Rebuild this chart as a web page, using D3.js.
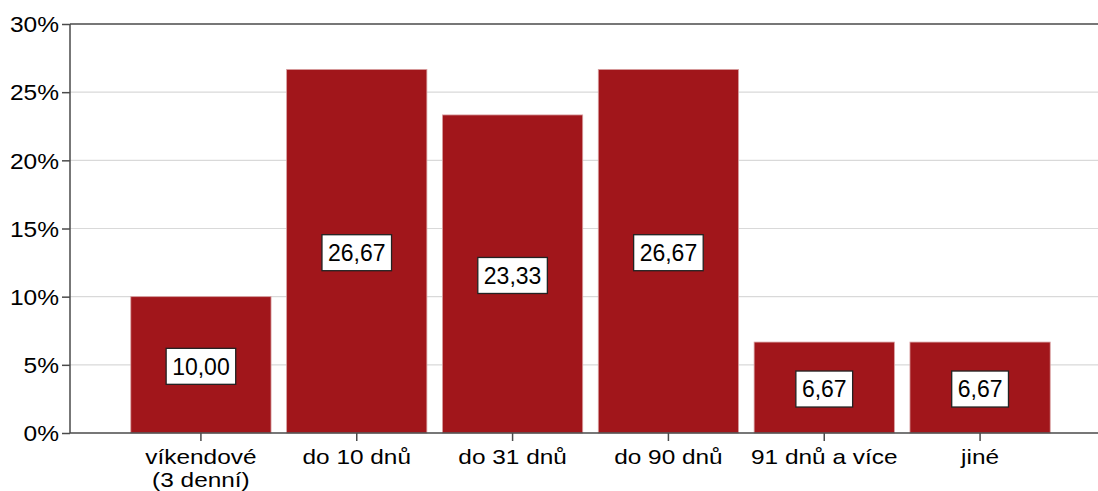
<!DOCTYPE html>
<html>
<head>
<meta charset="utf-8">
<script src="https://cdn.jsdelivr.net/npm/d3@7"></script>
<style>
  body { margin: 0; background: #fff; }
  text { font-family: "Liberation Sans", Arial, sans-serif; }
</style>
</head>
<body>
<div id="chart"></div>
<script>
// data
const categories = ["víkendové\n(3 denní)", "do 10 dnů", "do 31 dnů", "do 90 dnů", "91 dnů a více", "jiné"]
const values = [10.00, 26.67, 23.33, 26.67, 6.67, 6.67]
const yTicks = [0, 5, 10, 15, 20, 25, 30]

const width = 1098
const height = 491
const axis_font = 21.5
const stretch = 1.14
const cat_font = 20
const cat_stretch = 1.22
const bar_color = "#a1161b"

const svg = d3.select("#chart").append("svg")
    .attr("width", width)
    .attr("height", height)

const x = d3.scaleBand()
    .domain(categories)
    .range([123, 1058])
    .paddingInner(0.1)
    .paddingOuter(0.05)

const y = d3.scaleLinear()
    .domain([0, 30])
    .range([433, 24])

const axis_x0 = 70

// grid
svg.append("g")
    .selectAll("line")
    .data(yTicks.filter(d => d > 0 && d < 30))
    .join("line")
    .attr("x1", axis_x0).attr("x2", width)
    .attr("y1", d => y(d)).attr("y2", d => y(d))
    .attr("stroke", "#d9d9d9")
    .attr("stroke-width", 1.2)

// top frame line
svg.append("line")
    .attr("x1", axis_x0).attr("x2", width)
    .attr("y1", y(30)).attr("y2", y(30))
    .attr("stroke", "#4a4a4a")
    .attr("stroke-width", 1.5)

// bars
svg.append("g")
    .selectAll("rect")
    .data(values)
    .join("rect")
    .attr("x", (d, i) => x(categories[i]))
    .attr("y", d => y(d))
    .attr("width", x.bandwidth())
    .attr("height", d => y(0) - y(d))
    .attr("fill", bar_color)
    .attr("stroke", "#d9a0a2")
    .attr("stroke-width", 0.8)

// y axis
const yAxis = svg.append("g")
    .attr("transform", "translate(" + axis_x0 + ",0)")
    .call(d3.axisLeft(y).tickValues(yTicks).tickFormat(d => d + "%").tickSize(8).tickPadding(2))
yAxis.select(".domain").attr("stroke", "#4a4a4a").attr("stroke-width", 1.5)
    .attr("d", "M0," + y(30) + "V" + y(0))
yAxis.selectAll(".tick line").attr("stroke", "#4a4a4a").attr("stroke-width", 1.5)
yAxis.selectAll(".tick text")
    .attr("font-size", axis_font).attr("fill", "#000")
    .attr("font-family", "Liberation Sans, Arial, sans-serif")
    .attr("x", 0)
    .attr("dy", "0.36em")
    .attr("transform", "translate(-11,0) scale(" + stretch + ",1)")

// x axis
const xAxis = svg.append("g")
    .attr("transform", "translate(0," + y(0) + ")")
    .call(d3.axisBottom(x).tickSize(8).tickFormat(""))
xAxis.select(".domain").attr("stroke", "#4a4a4a").attr("stroke-width", 1.5)
    .attr("d", "M" + axis_x0 + ",0H" + width)
xAxis.selectAll(".tick line").attr("stroke", "#4a4a4a").attr("stroke-width", 1.5)

// one text per line so the lines stay separate
xAxis.selectAll(".tick").each(function(d) {
    d3.select(this).selectAll("text.cat")
        .data(d.split("\n"))
        .join("text")
        .attr("class", "cat")
        .attr("fill", "#000")
        .attr("font-size", cat_font)
        .attr("font-family", "Liberation Sans, Arial, sans-serif")
        .attr("text-anchor", "middle")
        .attr("transform", (t, i) => "translate(0," + (31 + i * 23) + ") scale(" + cat_stretch + ",1)")
        .text(t => t)
})

// value labels
const labels = svg.append("g")
    .selectAll("g")
    .data(values)
    .join("g")
    .attr("transform", (d, i) => "translate(" + (x(categories[i]) + x.bandwidth() / 2) + "," + ((y(d) + y(0)) / 2 + 1.5) + ")")

labels.append("text")
    .attr("text-anchor", "middle")
    .attr("dy", "0.36em")
    .attr("font-size", 23)
    .attr("fill", "#000")
    .text(d => d.toFixed(2).replace(".", ","))

labels.each(function() {
    const g = d3.select(this)
    const bb = g.select("text").node().getBBox()
    g.insert("rect", "text")
        .attr("x", bb.x - 6)
        .attr("y", -18)
        .attr("width", bb.width + 12)
        .attr("height", 36)
        .attr("fill", "#fff")
        .attr("stroke", "#222")
        .attr("stroke-width", 1.3)
})
</script>
</body>
</html>
